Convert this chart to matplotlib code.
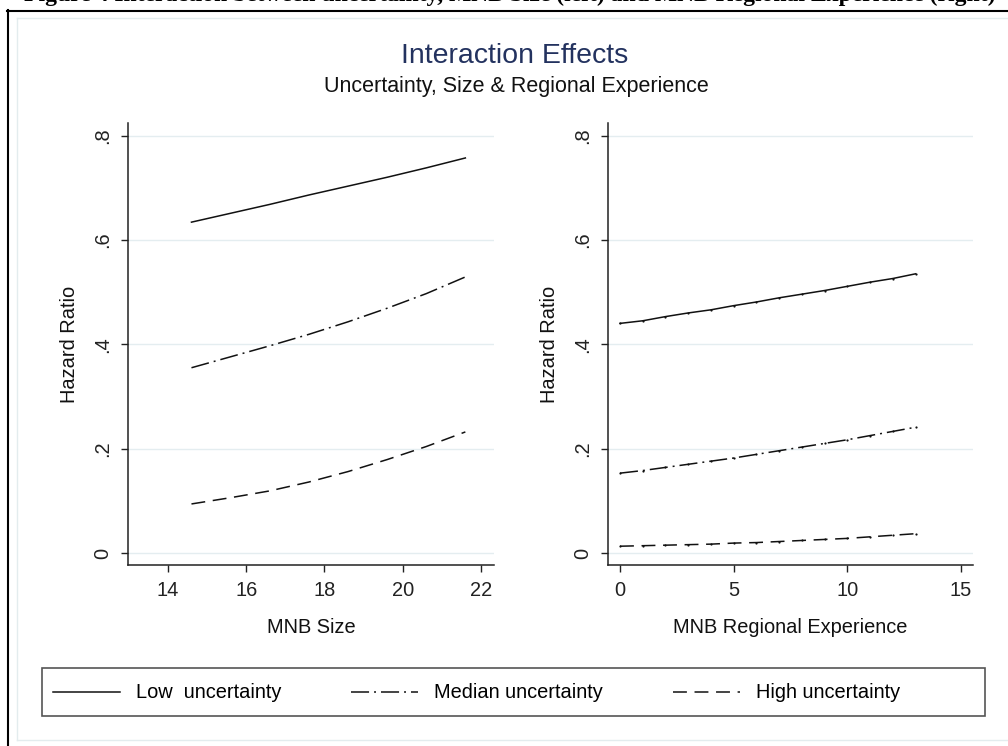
import matplotlib
matplotlib.use('Agg')
import matplotlib.pyplot as plt
from matplotlib.patches import Rectangle
from matplotlib.lines import Line2D

# ---------------- data ----------------
size_x = [14.6, 15.6, 16.6, 17.6, 18.6, 19.6, 20.6, 21.6]
size_low = [0.634, 0.651, 0.668, 0.686, 0.703, 0.720, 0.738, 0.757]
size_med = [0.355, 0.376, 0.397, 0.419, 0.443, 0.469, 0.497, 0.529]
size_high = [0.094, 0.106, 0.119, 0.136, 0.156, 0.179, 0.204, 0.232]

exp_x = [0, 1, 2, 3, 4, 5, 6, 7, 8, 9, 10, 11, 12, 13]
exp_low = [0.440, 0.445, 0.453, 0.460, 0.466, 0.474, 0.481, 0.489, 0.496, 0.503, 0.511, 0.519, 0.526, 0.535]
exp_med = [0.153, 0.158, 0.164, 0.170, 0.176, 0.182, 0.189, 0.196, 0.203, 0.210, 0.217, 0.225, 0.233, 0.241]
exp_high = [0.013, 0.014, 0.015, 0.016, 0.017, 0.019, 0.020, 0.022, 0.024, 0.026, 0.028, 0.031, 0.034, 0.037]

series_labels = ['Low  uncertainty', 'Median uncertainty', 'High uncertainty']
y_ticks = [0, 0.2, 0.4, 0.6, 0.8]
y_ticklabels = ['0', '.2', '.4', '.6', '.8']
size_ticks = [14, 16, 18, 20, 22]
exp_ticks = [0, 5, 10, 15]

title = 'Interaction Effects'
subtitle = 'Uncertainty, Size & Regional Experience'
caption = ('Figure 4 Interaction between uncertainty, MNB Size (left) '
           'and MNB Regional Experience (right)')

# ---------------- style ----------------
plt.rcParams['font.family'] = ['Liberation Sans', 'DejaVu Sans']
plt.rcParams['lines.scale_dashes'] = False

W, H = 1008, 746
fig = plt.figure(figsize=(W / 100, H / 100), dpi=100)
fig.patch.set_facecolor('white')


def px_rect(x0, y0, x1, y1):
    return [x0 / W, 1 - y1 / H, (x1 - x0) / W, (y1 - y0) / H]


LS = ['-', (0, (13, 3.6, 1.4, 3.6)), (0, (10, 5.5))]
LINE_COLOR = '#111111'
LW = 1.1
FS = 14.4

axL = fig.add_axes(px_rect(128, 123, 494, 565))
axR = fig.add_axes(px_rect(608, 123, 973, 565))

handles = []
for ys, ls in zip([size_low, size_med, size_high], LS):
    ln, = axL.plot(size_x, ys, color=LINE_COLOR, lw=LW, linestyle=ls)
    handles.append(ln)
for ys, ls in zip([exp_low, exp_med, exp_high], LS):
    axR.plot(exp_x, ys, color=LINE_COLOR, lw=LW, linestyle=ls,
             marker='o', markersize=1.6, markeredgewidth=0)

for ax, xt, xlab, xlim in [(axL, size_ticks, 'MNB Size', (12.978, 22.332)),
                           (axR, exp_ticks, 'MNB Regional Experience', (-0.528, 15.528))]:
    ax.set_xlim(*xlim)
    ax.set_ylim(-0.023, 0.824)
    ax.set_xticks(xt)
    ax.set_xticklabels([str(t) for t in xt])
    ax.set_yticks(y_ticks)
    ax.set_yticklabels(y_ticklabels)
    for s in ['top', 'right']:
        ax.spines[s].set_visible(False)
    for s in ['left', 'bottom']:
        ax.spines[s].set_linewidth(1.1)
        ax.spines[s].set_color('#222222')
    ax.yaxis.grid(True, color='#e4edf0', lw=1.0)
    ax.set_axisbelow(True)
    ax.tick_params(axis='both', length=5, width=1.0, pad=6.5,
                   labelsize=FS, colors='#222222', direction='out')
    ax.tick_params(axis='y', labelrotation=90)
    for lab in ax.get_yticklabels():
        lab.set_va('center')
        lab.set_ha('right')
    ax.set_xlabel(xlab, fontsize=FS, color='#111111')
    ax.xaxis.set_label_coords(0.5, -0.12)
    ax.set_ylabel('Hazard Ratio', fontsize=FS, color='#111111')
    ax.yaxis.set_label_coords(-0.134, 0.5)
    ax.set_facecolor('white')

# ---------------- titles ----------------
fig.text(515 / W, 1 - 63 / H, title, ha='center', va='baseline',
         fontsize=20.5, color='#23325f')
fig.text(516 / W, 1 - 92 / H, subtitle, ha='center', va='baseline',
         fontsize=15.5, color='#111111')
# caption of the source document, cut off at the top edge as in the reference
fig.text(995 / W, 1 - 0.5 / H, caption, ha='right', va='baseline',
         family=['Liberation Serif', 'DejaVu Serif'], weight='bold',
         fontsize=17, color='black')

# ---------------- legend ----------------
fig.legend(handles, series_labels, loc='center left',
           bbox_to_anchor=(53 / W, 1 - 693 / H), ncol=3, frameon=False,
           fontsize=FS, handlelength=3.35, handletextpad=0.8,
           columnspacing=3.5, borderpad=0, borderaxespad=0)
fig.add_artist(Rectangle((42 / W, 1 - 716 / H), (985 - 42) / W, 48 / H,
                         transform=fig.transFigure, fill=False,
                         ec='#555555', lw=1.2))

# ---------------- outer frames ----------------
fig.add_artist(Line2D([7.5 / W, 7.5 / W], [1 - 10 / H, 0],
                      transform=fig.transFigure, color='black', lw=1.5))
fig.add_artist(Line2D([7 / W, 1], [1 - 10.5 / H, 1 - 10.5 / H],
                      transform=fig.transFigure, color='black', lw=1.5))
light = '#e3ecee'
fig.add_artist(Line2D([17 / W, 17 / W], [1 - 18 / H, 1 - 740 / H],
                      transform=fig.transFigure, color=light, lw=1.0))
fig.add_artist(Line2D([17 / W, 1], [1 - 18 / H, 1 - 18 / H],
                      transform=fig.transFigure, color=light, lw=1.0))
fig.add_artist(Line2D([17 / W, 1], [1 - 740 / H, 1 - 740 / H],
                      transform=fig.transFigure, color=light, lw=1.0))

fig.savefig('out.png', dpi=100, facecolor='white')
